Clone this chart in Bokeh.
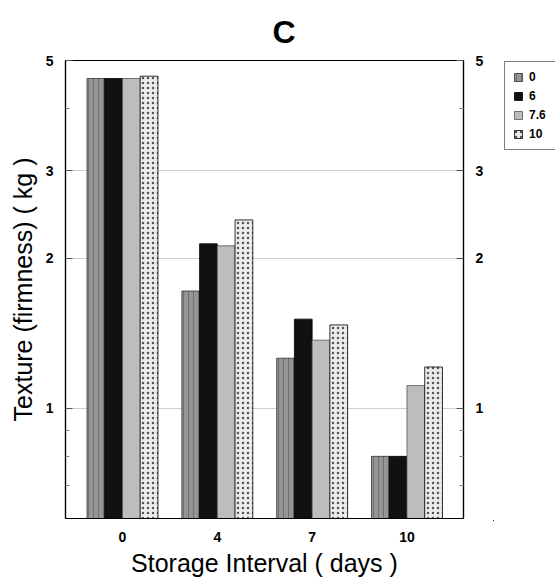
from bokeh.plotting import figure
from bokeh.layouts import row
from bokeh.models import (Range1d, FixedTicker, LogAxis, Legend, LegendItem,
                          ColumnDataSource)
from bokeh.embed import file_html
from bokeh.resources import INLINE

# ---- data ----
days = ["0", "4", "7", "10"]
series_names = ["0", "6", "7.6", "10"]
vals_0 = [4.60, 1.72, 1.26, 0.80]
vals_6 = [4.60, 2.14, 1.51, 0.80]
vals_76 = [4.60, 2.12, 1.37, 1.11]
vals_10 = [4.65, 2.39, 1.47, 1.21]
y_major = [1, 2, 3, 5]
y_minor = [0.7, 0.8, 0.9, 4]

series_vals = [vals_0, vals_6, vals_76, vals_10]
fills = ["#959595", "#111111", "#bdbdbd", "#ececec"]
hatches = ["vertical_line", None, None, "dot"]
hatch_cols = ["#6e6e6e", None, None, "#555555"]
lines = ["#333333", "#000000", "#555555", "#000000"]

FONT = "Liberation Sans"

p = figure(frame_width=398, frame_height=458, y_axis_type="log",
           x_range=Range1d(-0.601, 3.596), y_range=Range1d(0.6, 5),
           output_backend="svg", toolbar_location=None,
           min_border_left=65, min_border_right=30,
           min_border_top=57, min_border_bottom=60)
p.background_fill_color = "white"
p.border_fill_color = "white"
p.outline_line_color = "black"
p.outline_line_width = 1.2

p.title.text = "C"
p.title.text_font = FONT
p.title.text_font_size = "32px"
p.title.text_font_style = "bold"
p.title.text_color = "black"
p.title.text_line_height = 0.9
p.title.align = "left"
p.title.offset = 207
p.title.standoff = 22


def bar_style(i):
    kw = dict(fill_color=fills[i], line_color=lines[i], line_width=0.8)
    if hatches[i]:
        kw.update(hatch_pattern=hatches[i], hatch_color=hatch_cols[i],
                  hatch_scale=5, hatch_weight=1)
    return kw


w = 0.187
xs = list(range(len(days)))
sources = []
for i, vals in enumerate(series_vals):
    src = ColumnDataSource(dict(x=[g + (i - 1.5) * w for g in xs],
                                top=vals, bottom=[0.55] * len(vals)))
    sources.append(src)
    p.vbar(x="x", top="top", bottom="bottom", width=w, source=src,
           **bar_style(i))

# x axis
xa = p.xaxis[0]
xa.ticker = FixedTicker(ticks=xs)
xa.major_label_overrides = {i: d for i, d in enumerate(days)}
xa.major_tick_in = 0
xa.major_tick_out = 0
xa.minor_tick_line_color = None
xa.axis_line_color = "black"
xa.major_label_text_font = FONT
xa.major_label_text_font_size = "14px"
xa.major_label_text_font_style = "bold"
xa.major_label_text_color = "black"
xa.major_label_standoff = 13
xa.axis_label = "Storage Interval ( days )"
xa.axis_label_text_font = FONT
xa.axis_label_text_font_size = "25px"
xa.axis_label_text_font_style = "normal"
xa.axis_label_text_color = "black"
xa.axis_label_standoff = 4


def style_y(ax):
    ax.ticker = FixedTicker(ticks=y_major, minor_ticks=y_minor)
    ax.major_label_overrides = {1: "1", 2: "2", 3: "3", 5: "5"}
    ax.major_tick_in = 7
    ax.major_tick_out = 0
    ax.minor_tick_in = 4
    ax.minor_tick_out = 0
    ax.major_tick_line_color = "#555555"
    ax.minor_tick_line_color = "#888888"
    ax.axis_line_color = "black"
    ax.axis_line_width = 1.2
    ax.major_label_text_font = FONT
    ax.major_label_text_font_size = "14px"
    ax.major_label_text_font_style = "bold"
    ax.major_label_text_color = "black"
    ax.major_label_standoff = 12


ya = p.yaxis[0]
style_y(ya)
ya.axis_label = "Texture (firmness) ( kg )"
ya.axis_label_text_font = FONT
ya.axis_label_text_font_size = "25px"
ya.axis_label_text_font_style = "normal"
ya.axis_label_text_color = "black"
ya.axis_label_standoff = 6

ra = LogAxis()
style_y(ra)
p.add_layout(ra, "right")

p.xgrid.visible = False
p.ygrid.ticker = FixedTicker(ticks=[1, 2, 3])
p.ygrid.grid_line_color = "#cfcfcf"
p.ygrid.grid_line_width = 1

# ---- legend panel (separate narrow figure to the right) ----
# its view range is far from the data, so only the legend key shows
lf = figure(width=62, height=581, x_range=Range1d(50, 51),
            y_range=Range1d(50, 51), output_backend="svg",
            toolbar_location=None, min_border=0)
lf.axis.visible = False
lf.grid.visible = False
lf.outline_line_color = None
lf.background_fill_color = "white"
lf.border_fill_color = "white"

key_renderers = []
for i, src in enumerate(sources):
    key_renderers.append(lf.vbar(x="x", top="top", bottom="bottom", width=w,
                                 source=src, **bar_style(i)))

legend = Legend(items=[LegendItem(label=n, renderers=[r], index=0)
                       for n, r in zip(series_names, key_renderers)],
                location=(11, 370))
legend.label_text_font = FONT
legend.label_text_font_size = "12px"
legend.label_text_font_style = "bold"
legend.label_text_color = "black"
legend.glyph_width = 10
legend.glyph_height = 10
legend.label_height = 10
legend.spacing = 5
legend.padding = 8
legend.margin = 0
legend.label_standoff = 6
legend.border_line_color = "black"
legend.border_line_width = 1
legend.background_fill_color = "white"
legend.background_fill_alpha = 1
lf.add_layout(legend, "center")

layout = row(p, lf, spacing=0)
open("out.html", "w").write(file_html(layout, INLINE))
